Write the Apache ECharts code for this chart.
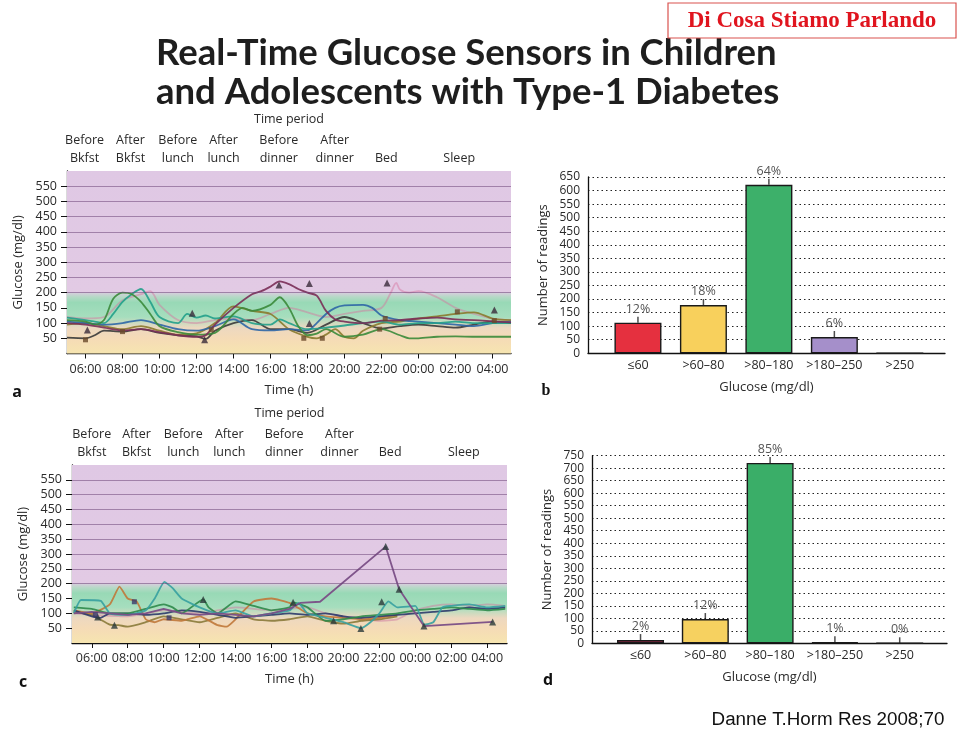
<!DOCTYPE html>
<html><head><meta charset="utf-8">
<script src="https://cdn.jsdelivr.net/npm/echarts@6/dist/echarts.min.js"></script>
<style>html,body{margin:0;padding:0;background:#fff}#chart{width:960px;height:733px}</style>
</head><body><div id="chart"></div>
<script>
// ---------- data ----------
const tickHours = [6, 8, 10, 12, 14, 16, 18, 20, 22, 24, 26, 28];
const tickLabels = ['06:00', '08:00', '10:00', '12:00', '14:00', '16:00', '18:00', '20:00', '22:00', '00:00', '02:00', '04:00'];
const glucoseTicks = [50, 100, 150, 200, 250, 300, 350, 400, 450, 500, 550];
const guideLevels = [200, 250, 300, 350, 400, 450, 500, 550];
const periodLabels = ['Before\nBkfst', 'After\nBkfst', 'Before\nlunch', 'After\nlunch', 'Before\ndinner', 'After\ndinner', 'Bed', 'Sleep'];
const periodHoursA = [5.95, 8.43, 10.99, 13.46, 16.45, 19.47, 22.26, 26.2];
const periodHoursC = [6.0, 8.49, 11.09, 13.65, 16.7, 19.78, 22.6, 26.7];

// panel a traces [hour, mg/dl]
const aMaroon = [[5,100],[6,95],[7,85],[8,76],[9,80],[10,70],[11,60],[12,55],[12.5,60],[13,95],[14,150],[15,195],[15.5,205],[16,220],[16.5,237],[17,228],[17.5,212],[18,200],[18.5,190],[19,140],[19.5,112],[20,105],[21,100],[22,108],[23,110],[24,115],[25,118],[26,112],[27,110],[28,106],[29,102]];
const aGreen = [[5,110],[6,105],[6.5,95],[7,110],[7.5,180],[8,200],[8.5,195],[9,170],[9.5,130],[10,90],[11,70],[12,62],[13,68],[14,130],[14.5,150],[15,140],[16,160],[16.5,185],[17,150],[17.5,90],[18,60],[18.5,65],[19,80],[20,55],[21,62],[22,80],[23,60],[23.5,50],[24,50],[25,55],[26,56],[27,55],[28,55],[29,55]];
const aTeal = [[5,118],[6,110],[6.5,105],[7,100],[7.5,130],[8,170],[8.5,195],[9,212],[9.5,170],[10,120],[11,100],[11.5,130],[12,118],[12.5,125],[13,115],[14,122],[15,100],[16,95],[16.5,112],[17,100],[18,80],[19,85],[20,92],[21,100],[22,105],[23,95],[24,100],[25,100],[26,105],[27,100],[28,100],[29,100]];
const aBlue = [[5,105],[6,100],[7,95],[8,100],[9,110],[10,95],[11,80],[12,75],[13,90],[14,112],[15,80],[16,76],[17,80],[18,76],[18.5,100],[19,130],[19.5,150],[20,158],[21,160],[21.5,150],[22,125],[23,110],[24,105],[25,100],[26,95],[27,90],[28,100],[29,105]];
const aOlive = [[5,95],[6,100],[7,90],[8,80],[9,90],[10,75],[11,62],[12,66],[13,100],[14,155],[15,140],[16,130],[17,80],[18,55],[18.5,50],[19,62],[19.5,80],[20,55],[20.5,50],[21,75],[22,100],[23,105],[24,115],[25,122],[26,130],[27,135],[28,115],[29,110]];
const aPink = [[5,120],[6,115],[7,120],[8,175],[9,195],[9.5,205],[10,160],[11,110],[12,100],[13,110],[14,115],[15,110],[16,130],[17,150],[18,135],[19,120],[20,130],[21,140],[22,150],[22.5,200],[22.8,232],[23,210],[23.5,200],[24,205],[25,185],[26,150],[27,130],[28,115],[29,110]];
const aGray = [[5,52],[6,50],[6.5,60],[7,75],[8,72],[9,80],[10,68],[11,60],[12,56],[12.5,48],[13,75],[14,100],[15,110],[16,80],[17,80],[18,68],[19,95],[20,120],[21,100],[22,82],[23,90],[24,95],[25,90],[26,85],[27,95],[28,105],[29,100]];
const aTriangles = [[6.1,77],[11.77,132],[12.44,45],[16.46,225],[18.1,230],[18.1,99],[22.3,232],[28.1,143]];
const aSquares = [[6.0,45],[8.0,72],[12.8,78],[17.8,50],[18.8,50],[21.9,80],[22.2,115],[26.1,137],[28.1,108]];

// panel c traces
const cSpike = [[5,100],[6,105],[7,100],[8,95],[9,100],[10,115],[11,100],[12,95],[13,100],[14,95],[15,90],[16,100],[17,115],[17.6,135],[18.7,139],[22.35,325],[23.1,181],[24.48,57],[28.3,71]];
const cOrange = [[5,110],[6,100],[7,130],[7.54,190],[8,150],[8.5,140],[9,80],[9.5,70],[10,80],[11,75],[12,90],[13,60],[13.5,55],[14,80],[15,140],[16,150],[17,135],[18,100],[19,90],[20,85],[21,80],[22,85],[23,95]];
const cTeal = [[5,100],[5.4,145],[6.5,142],[7,100],[8,95],[9,110],[9.5,150],[10.04,206],[10.5,185],[11,150],[12,120],[13,100],[14,110],[15,90],[16,100],[17,110],[17.5,135],[18,100],[19,85],[20,70],[21,50],[21.5,70],[22,100],[22.5,140],[23,120],[24,125],[24.5,62],[25,70],[25.5,120],[26,125],[27,130],[28,120],[29,125]];
const cGreen = [[5,120],[6,115],[7,100],[8,100],[9,115],[10,130],[10.5,120],[11,100],[12.2,147],[12.5,120],[13,100],[14,140],[15,125],[16,110],[17,120],[17.2,137],[18,120],[19,75],[20,80],[21,90],[22,95],[23,100],[24,110],[25,115],[26,120],[27,115],[28,110],[29,115]];
const cNavy = [[5,110],[6,90],[6.5,85],[7,100],[8,100],[9,95],[10,100],[11,110],[12,105],[13,95],[14,85],[15,90],[16,95],[17,100],[18,95],[19,100],[20,90],[21,85],[22,90],[23,95],[24,100],[25,105],[26,110],[27,120],[28,115],[29,120]];
const cOlive = [[5,105],[6,95],[7,62],[7.5,60],[8,55],[9,70],[10,90],[11,80],[12,70],[13,85],[14,100],[15,80],[16,75],[17,80],[18,90],[19,75],[20,65],[21,75],[22,80],[23,90]];
const cPink = [[5,100],[6,95],[8,90],[10,110],[12,100],[14,120],[16,110],[18,120],[19,100],[20,90],[22,75],[23,80],[24,110],[25,125],[26,130],[27,125],[28,130],[29,125]];
const cTriangles = [[6.33,88],[7.26,60],[12.2,147],[17.2,137],[19.45,75],[20.97,49],[22.13,139],[22.35,325],[23.1,181],[24.48,57],[28.3,71]];
const cSquares = [[6.2,95],[8.37,139],[10.3,85]];

// panels b & d
const glucoseBins = ['≤60', '>60–80', '>80–180', '>180–250', '>250'];
const readingsB = [113, 178, 621, 60, 0];
const pctB = ['12%', '18%', '64%', '6%', ''];
const readingsD = [13, 97, 721, 4, 0];
const pctD = ['2%', '12%', '85%', '1%', '0%'];

// ---------- styling ----------
const FONT = 'Open Sans';
const TXT = '#2a2a2a';
const colorsB = ['#e5303f', '#f8d05c', '#3db06a', '#a58fca', '#cccccc'];
const colorsD = ['#a3284a', '#f6d160', '#3aae68', '#8c76b0', '#cccccc'];

const bgGradient = {
  type: 'linear', x: 0, y: 0, x2: 0, y2: 1,
  colorStops: [
    {offset: 0, color: '#dfc8e4'},
    {offset: 0.66, color: '#e2cae4'},
    {offset: 0.69, color: '#b5d9c6'},
    {offset: 0.72, color: '#98d9b6'},
    {offset: 0.80, color: '#a6debe'},
    {offset: 0.86, color: '#edd8c0'},
    {offset: 0.92, color: '#f5dbb6'},
    {offset: 1, color: '#f6e5b0'}
  ]
};

function timeAxes(gridIndex, min, max, periodHours) {
  return [{
    type: 'value', gridIndex, min, max, position: 'bottom',
    axisLine: {show: true, onZero: false, lineStyle: {color: '#111', width: 1.3}},
    axisTick: {show: true, customValues: tickHours, length: 5, lineStyle: {color: '#111'}},
    axisLabel: {customValues: tickHours, formatter: v => tickLabels[tickHours.indexOf(v)], margin: 9,
      fontFamily: FONT, fontSize: 12.5, color: TXT},
    splitLine: {show: false},
    name: 'Time (h)', nameLocation: 'middle', nameGap: 30,
    nameTextStyle: {fontFamily: FONT, fontSize: 13, color: TXT}
  }, {
    type: 'value', gridIndex, min, max, position: 'top',
    axisLine: {show: false}, axisTick: {show: false}, splitLine: {show: false},
    axisLabel: {customValues: periodHours, formatter: v => periodLabels[periodHours.indexOf(v)], margin: 4,
      fontFamily: FONT, fontSize: 12.5, color: TXT, lineHeight: 18, align: 'center'},
    name: 'Time period', nameLocation: 'middle', nameGap: 45,
    nameTextStyle: {fontFamily: FONT, fontSize: 12.5, color: TXT}
  }];
}
function glucoseAxis(gridIndex) {
  return {
    type: 'value', gridIndex, min: 0, max: 600,
    axisLine: {show: true, onZero: false, lineStyle: {color: '#111', width: 1.3}},
    axisTick: {show: true, customValues: glucoseTicks, length: 6, lineStyle: {color: '#111'}},
    axisLabel: {customValues: glucoseTicks, margin: 10, fontFamily: FONT, fontSize: 12.5, color: TXT},
    splitLine: {show: false},
    name: 'Glucose (mg/dl)', nameLocation: 'middle', nameGap: 42,
    nameTextStyle: {fontFamily: FONT, fontSize: 13, color: TXT}
  };
}
function countAxis(gridIndex, max) {
  return {
    type: 'value', gridIndex, min: 0, max, interval: 50,
    axisLine: {show: true, onZero: false, lineStyle: {color: '#111', width: 1.3}},
    axisTick: {show: false},
    axisLabel: {margin: 8, fontFamily: FONT, fontSize: 12, color: TXT, lineHeight: 12,
      showMinLabel: true, showMaxLabel: true, hideOverlap: false},
    splitLine: {show: true, lineStyle: {color: '#222', type: [1.5, 3], width: 1}},
    name: 'Number of readings', nameLocation: 'middle', nameGap: 38,
    nameTextStyle: {fontFamily: FONT, fontSize: 13, color: TXT}
  };
}
function binAxis(gridIndex, min, max) {
  return {
    type: 'value', gridIndex, min, max,
    axisLine: {show: true, onZero: false, lineStyle: {color: '#111', width: 1.3}},
    axisTick: {show: false}, splitLine: {show: false},
    axisLabel: {customValues: [0,1,2,3,4], formatter: v => glucoseBins[v], margin: 6,
      fontFamily: FONT, fontSize: 12.5, color: TXT},
    name: 'Glucose (mg/dl)', nameLocation: 'middle', nameGap: 27,
    nameTextStyle: {fontFamily: FONT, fontSize: 13, color: TXT}
  };
}
function trace(data, color, xi, yi, opacity, smooth) {
  return {type: 'line', data, xAxisIndex: xi, yAxisIndex: yi, showSymbol: false, smooth: smooth,
    lineStyle: {color, width: 1.8, opacity}, z: 3, silent: true};
}
function background(xi, yi) {
  return {type: 'line', data: [], xAxisIndex: xi, yAxisIndex: yi, silent: true,
    markArea: {silent: true, itemStyle: {color: bgGradient}, data: [[{yAxis: 0}, {yAxis: 600}]]},
    markLine: {silent: true, symbol: 'none', label: {show: false},
      lineStyle: {color: 'rgba(110,70,120,0.55)', width: 1, type: 'solid'},
      data: guideLevels.map(v => ({yAxis: v}))}, z: 1};
}
function markers(data, symbol, xi, yi, color) {
  return {type: 'scatter', data, xAxisIndex: xi, yAxisIndex: yi, symbol, symbolSize: symbol === 'triangle' ? 7 : 5,
    itemStyle: {color}, z: 5, silent: true};
}
function bars(values, pcts, colors, xi, yi) {
  return [{
    type: 'bar', xAxisIndex: xi, yAxisIndex: yi, barWidth: 47,
    data: values.map((v, i) => ({value: [i, v], itemStyle: {color: colors[i]}, label: {formatter: pcts[i]}})),
    itemStyle: {borderColor: '#1a1a1a', borderWidth: 1.4},
    label: {show: true, position: 'top', distance: 7, fontFamily: FONT, fontSize: 12.5, color: '#555'},
    z: 3
  }, {
    type: 'scatter', xAxisIndex: xi, yAxisIndex: yi, symbol: 'rect', symbolSize: [1.5, 6], symbolOffset: [0, -3],
    data: values.map((v, i) => [i, v]).filter((d, i) => pcts[i] !== ''),
    itemStyle: {color: '#222'}, z: 4, silent: true
  }];
}

const option = {
  animation: false,
  backgroundColor: '#fff',
  grid: [
    {left: 67, top: 171, width: 444, height: 182.5},
    {left: 72, top: 465, width: 435, height: 178},
    {left: 588, top: 177, width: 357, height: 176.3},
    {left: 592, top: 455.7, width: 355, height: 187.6}
  ],
  xAxis: [
    ...timeAxes(0, 5, 29, periodHoursA),
    ...timeAxes(1, 4.9, 29.1, periodHoursC),
    binAxis(2, -0.763, 4.69),
    binAxis(3, -0.749, 4.73)
  ],
  yAxis: [glucoseAxis(0), glucoseAxis(1), countAxis(2, 650), countAxis(3, 750)],
  series: [
    background(0, 0),
    trace(aPink, '#d8709e', 0, 0, 0.45, 0.3),
    trace(aGray, '#3a3a3a', 0, 0, 0.9, 0.3),
    trace(aOlive, '#8a7a2e', 0, 0, 0.9, 0.3),
    trace(aBlue, '#2e66a6', 0, 0, 0.9, 0.3),
    trace(aTeal, '#22a08a', 0, 0, 0.9, 0.3),
    trace(aGreen, '#3a8a3a', 0, 0, 0.9, 0.3),
    trace(aMaroon, '#7a2d57', 0, 0, 0.9, 0.3),
    markers(aTriangles, 'triangle', 0, 0, '#3a2a3a'),
    markers(aSquares, 'rect', 0, 0, '#6a4a2a'),
    background(2, 1),
    trace(cPink, '#d07aa0', 2, 1, 0.5, 0.15),
    trace(cOlive, '#8a7a3a', 2, 1, 0.9, 0.15),
    trace(cOrange, '#c0783a', 2, 1, 0.9, 0.15),
    trace(cNavy, '#2c3a6c', 2, 1, 0.9, 0.15),
    trace(cGreen, '#2e8a4a', 2, 1, 0.9, 0.15),
    trace(cTeal, '#36a0a0', 2, 1, 0.9, 0.15),
    trace(cSpike, '#7a4e86', 2, 1, 0.95, false),
    markers(cTriangles, 'triangle', 2, 1, '#2a3a3a'),
    markers(cSquares, 'rect', 2, 1, '#3a3a6a'),
    ...bars(readingsB, pctB, colorsB, 4, 2),
    ...bars(readingsD, pctD, colorsD, 5, 3)
  ],
  graphic: [
    {type: 'text', left: 156, top: 34, style: {text: 'Real-Time Glucose Sensors in Children\nand Adolescents with Type-1 Diabetes',
      font: 'bold 36.5px Lato', lineHeight: 39, fill: '#1e1e1e'}},
    {type: 'rect', shape: {x: 668, y: 3, width: 288, height: 35}, style: {fill: '#fff', stroke: '#d9534f', lineWidth: 1.2}},
    {type: 'text', x: 812, y: 21, style: {text: 'Di Cosa Stiamo Parlando', font: 'bold 23px "Liberation Serif"', fill: '#e0141e', align: 'center', verticalAlign: 'middle'}},
    {type: 'text', x: 828, y: 720, style: {text: 'Danne T.Horm Res 2008;70', font: '18.8px "Liberation Sans"', fill: '#111', align: 'center', verticalAlign: 'middle'}},
    {type: 'text', x: 17, y: 392, style: {text: 'a', font: 'bold 16px "Open Sans"', fill: '#111', align: 'center', verticalAlign: 'middle'}},
    {type: 'text', x: 546, y: 391, style: {text: 'b', font: 'bold 16px "Liberation Serif"', fill: '#111', align: 'center', verticalAlign: 'middle'}},
    {type: 'text', x: 23, y: 682, style: {text: 'c', font: 'bold 16px "Open Sans"', fill: '#111', align: 'center', verticalAlign: 'middle'}},
    {type: 'text', x: 548, y: 680, style: {text: 'd', font: 'bold 16px "Open Sans"', fill: '#111', align: 'center', verticalAlign: 'middle'}}
  ]
};
const chart = echarts.init(document.getElementById('chart'), null, {renderer: 'canvas'});
chart.setOption(option);
</script></body></html>
